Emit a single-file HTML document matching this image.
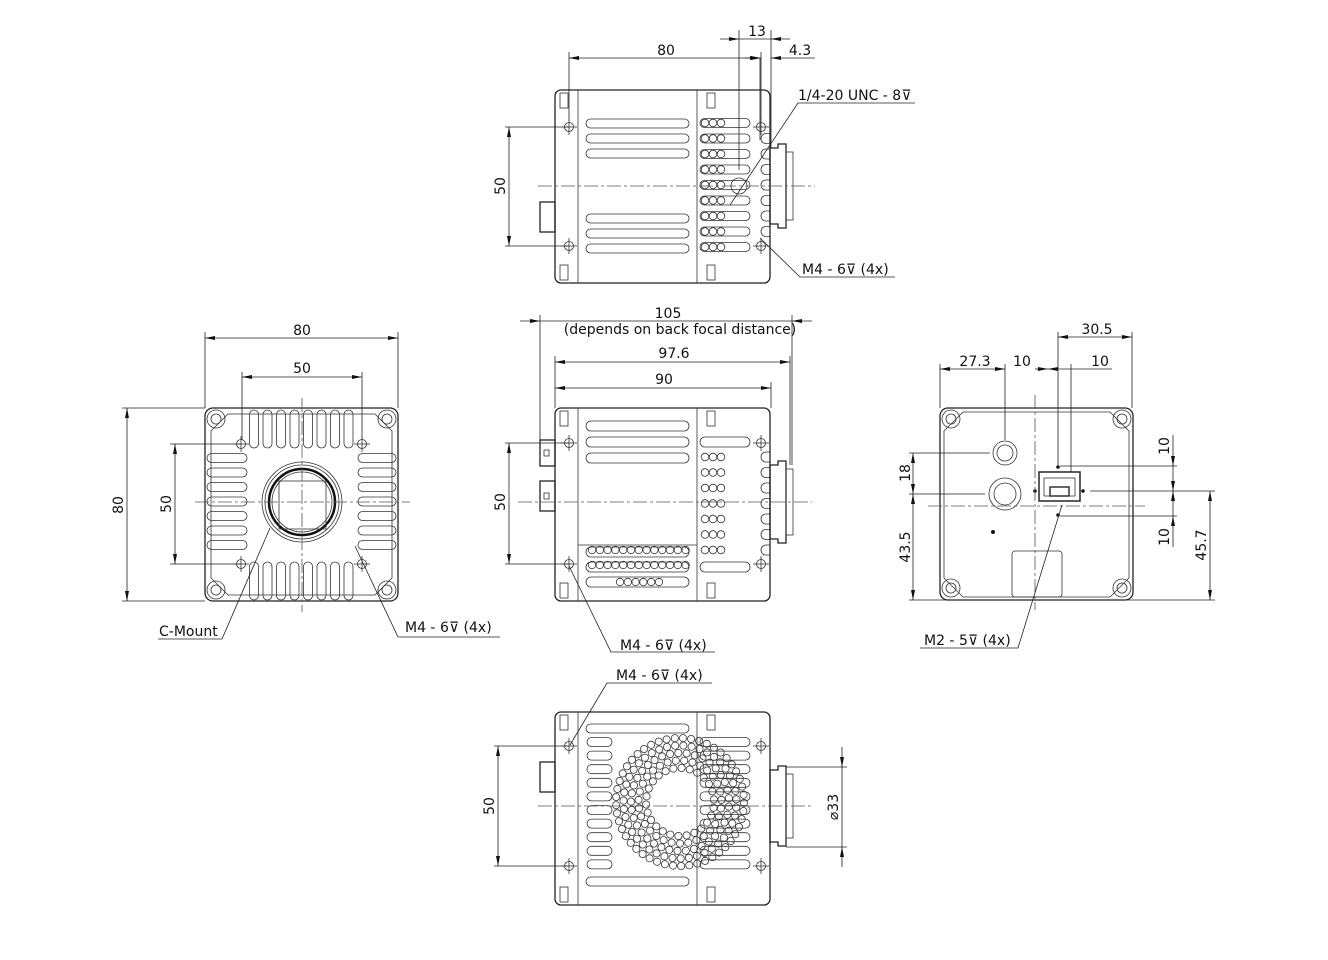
<!DOCTYPE html>
<html><head><meta charset="utf-8">
<style>
html,body{margin:0;padding:0;background:#fff;}
svg{display:block;}
text{font-family:"DejaVu Sans","Liberation Sans",sans-serif;font-size:14px;fill:#111;}
.t{stroke:#222;stroke-width:1.3;fill:none;}
.n{stroke:#333;stroke-width:0.8;fill:none;}
.d{stroke:#222;stroke-width:0.8;fill:none;}
.c{stroke:#555;stroke-width:0.8;fill:none;stroke-dasharray:14 3 3 3;}
</style></head>
<body>
<svg id="s" width="1328" height="960" viewBox="0 0 1328 960" xmlns="http://www.w3.org/2000/svg">
<defs>
<marker id="a" viewBox="0 0 10 4" refX="10" refY="2" markerWidth="12" markerHeight="4" markerUnits="userSpaceOnUse" orient="auto-start-reverse"><path d="M0,0 L10,2 L0,4z" fill="#111"/></marker>
</defs>

<!-- ================= TOP VIEW ================= -->
<g>
<rect class="t" x="555" y="90" width="215" height="193" rx="6"/>
<line class="n" x1="578" y1="90" x2="578" y2="283"/>
<line class="n" x1="697" y1="90" x2="697" y2="283"/>
<rect class="n" x="560" y="93" width="8" height="15"/><rect class="n" x="560" y="265" width="8" height="15"/>
<rect class="n" x="707" y="93" width="8" height="15"/><rect class="n" x="707" y="265" width="8" height="15"/>
<g class="n">
<rect x="586" y="119" width="103" height="9" rx="4.5"/><rect x="586" y="134" width="103" height="9" rx="4.5"/><rect x="586" y="149" width="103" height="9" rx="4.5"/>
<rect x="586" y="214" width="103" height="9" rx="4.5"/><rect x="586" y="229" width="103" height="9" rx="4.5"/><rect x="586" y="244" width="103" height="9" rx="4.5"/>
</g>
<g id="topRight"></g>
<path class="t" d="M770,148 h8 v-4 h8 v84 h-8 v-4 h-8z"/>
<rect class="n" x="786" y="152" width="7" height="68"/>
<rect class="t" x="540" y="202" width="15" height="30"/>
<line class="c" x1="538" y1="186" x2="815" y2="186"/>
<circle class="n" cx="739" cy="186" r="8"/>
</g>
<!-- top dims -->
<g class="d">
<line x1="569" y1="52" x2="569" y2="120"/><line x1="761" y1="52" x2="761" y2="120"/>
<line x1="569" y1="58" x2="761" y2="58" marker-start="url(#a)" marker-end="url(#a)"/>
<line x1="739" y1="30" x2="739" y2="170"/><line x1="771" y1="30" x2="771" y2="148"/>
<line x1="720" y1="39" x2="739" y2="39" marker-end="url(#a)"/><line x1="739" y1="39" x2="771" y2="39"/><line x1="771" y1="39" x2="790" y2="39" marker-start="url(#a)"/>
<line x1="745" y1="58" x2="760" y2="58" marker-end="url(#a)"/><line x1="760" y1="58" x2="760" y2="140"/><line x1="771" y1="58" x2="815" y2="58" marker-start="url(#a)"/>
<line x1="509" y1="127" x2="509" y2="246" marker-start="url(#a)" marker-end="url(#a)"/>
<line x1="505" y1="127" x2="569" y2="127"/><line x1="505" y1="246" x2="569" y2="246"/>
<polyline points="915,103 798,103 730,205"/>
<polyline points="760,238 800,277 895,277"/>
</g>
<text x="666" y="55" text-anchor="middle">80</text>
<text x="757" y="36" text-anchor="middle">13</text>
<text x="800" y="55" text-anchor="middle">4.3</text>
<text x="798" y="100">1/4-20 UNC - 8⊽</text>
<text x="802" y="274">M4 - 6⊽ (4x)</text>
<text transform="translate(505,186) rotate(-90)" text-anchor="middle">50</text>

<!-- ================= SIDE VIEW (middle) ================= -->
<g>
<rect class="t" x="555" y="408" width="215" height="193" rx="6"/>
<line class="n" x1="578" y1="408" x2="578" y2="601"/>
<line class="n" x1="697" y1="408" x2="697" y2="601"/>
<line class="n" x1="578" y1="545" x2="697" y2="545"/>
<rect class="n" x="560" y="411" width="8" height="15"/><rect class="n" x="560" y="583" width="8" height="15"/>
<rect class="n" x="707" y="411" width="8" height="15"/><rect class="n" x="707" y="583" width="8" height="15"/>
<g class="n">
<rect x="586" y="421" width="103" height="10" rx="5"/><rect x="586" y="437" width="103" height="10" rx="5"/><rect x="586" y="453" width="103" height="10" rx="5"/>
<rect x="586" y="547" width="103" height="10" rx="5"/><rect x="586" y="562" width="103" height="10" rx="5"/><rect x="586" y="577" width="103" height="10" rx="5"/>
<rect x="700" y="437" width="50" height="10" rx="5"/><rect x="700" y="562" width="50" height="10" rx="5"/>
</g>
<g id="sideRight"></g>
<path class="t" d="M770,465 h8 v-4 h8 v82 h-8 v-4 h-8z"/>
<rect class="n" x="786" y="469" width="7" height="66"/>
<rect class="t" x="540" y="440" width="15" height="26"/>
<rect class="t" x="540" y="481" width="15" height="30"/>
<rect class="n" x="544" y="450" width="5" height="6"/><rect class="n" x="544" y="493" width="5" height="6"/>
<line class="c" x1="518" y1="502" x2="812" y2="502"/>
</g>
<g class="d">
<line x1="540" y1="315" x2="540" y2="440"/><line x1="792" y1="315" x2="792" y2="465"/>
<line x1="520" y1="321" x2="540" y2="321" marker-end="url(#a)"/><line x1="540" y1="321" x2="792" y2="321"/><line x1="792" y1="321" x2="812" y2="321" marker-start="url(#a)"/>
<line x1="555" y1="356" x2="555" y2="408"/><line x1="790" y1="356" x2="790" y2="465"/>
<line x1="555" y1="362" x2="790" y2="362" marker-start="url(#a)" marker-end="url(#a)"/>
<line x1="771" y1="382" x2="771" y2="408"/>
<line x1="555" y1="388" x2="771" y2="388" marker-start="url(#a)" marker-end="url(#a)"/>
<line x1="509" y1="443" x2="509" y2="564" marker-start="url(#a)" marker-end="url(#a)"/>
<line x1="505" y1="443" x2="569" y2="443"/><line x1="505" y1="564" x2="569" y2="564"/>
<polyline points="569,566 611,652 715,652"/>
</g>
<text x="668" y="318" text-anchor="middle">105</text>
<text x="680" y="334" text-anchor="middle">(depends on back focal distance)</text>
<text x="674" y="358" text-anchor="middle">97.6</text>
<text x="664" y="384" text-anchor="middle">90</text>
<text x="620" y="650">M4 - 6⊽ (4x)</text>
<text transform="translate(505,502) rotate(-90)" text-anchor="middle">50</text>

<!-- ================= FRONT VIEW (left) ================= -->
<g>
<rect class="t" x="205" y="408" width="193" height="193" rx="8"/>
<path class="n" d="M228,414 H375 L392,431 V578 L375,595 H228 L211,578 V431z"/>
<g class="n">
<circle cx="216" cy="419" r="9"/><circle cx="387" cy="419" r="9"/><circle cx="216" cy="590" r="9"/><circle cx="387" cy="590" r="9"/>
<circle cx="216" cy="419" r="5"/><circle cx="387" cy="419" r="5"/><circle cx="216" cy="590" r="5"/><circle cx="387" cy="590" r="5"/>
</g>
<g id="frontFins"></g>
<circle class="n" cx="302" cy="502" r="40"/>
<circle class="n" cx="302" cy="502" r="37"/>
<circle cx="302" cy="502" r="33" fill="none" stroke="#111" stroke-width="2.5"/>
<circle class="n" cx="302" cy="502" r="30"/>
<rect class="n" x="279" y="481" width="47" height="48"/>
<line class="c" x1="195" y1="502" x2="410" y2="502"/>
<line class="c" x1="302" y1="398" x2="302" y2="612"/>
</g>
<g class="d">
<line x1="205" y1="332" x2="205" y2="408"/><line x1="398" y1="332" x2="398" y2="408"/>
<line x1="205" y1="338" x2="398" y2="338" marker-start="url(#a)" marker-end="url(#a)"/>
<line x1="242" y1="372" x2="242" y2="440"/><line x1="362" y1="372" x2="362" y2="440"/>
<line x1="242" y1="377" x2="362" y2="377" marker-start="url(#a)" marker-end="url(#a)"/>
<line x1="122" y1="408" x2="205" y2="408"/><line x1="122" y1="601" x2="205" y2="601"/>
<line x1="127" y1="408" x2="127" y2="601" marker-start="url(#a)" marker-end="url(#a)"/>
<line x1="170" y1="444" x2="241" y2="444"/><line x1="170" y1="564" x2="241" y2="564"/>
<line x1="175" y1="444" x2="175" y2="564" marker-start="url(#a)" marker-end="url(#a)"/>
<polyline points="158,639 222,639 270,528"/>
<polyline points="355,546 398,637 500,637"/>
</g>
<text x="302" y="335" text-anchor="middle">80</text>
<text x="302" y="373" text-anchor="middle">50</text>
<text x="159" y="636">C-Mount</text>
<text x="405" y="632">M4 - 6⊽ (4x)</text>
<text transform="translate(123,505) rotate(-90)" text-anchor="middle">80</text>
<text transform="translate(171,504) rotate(-90)" text-anchor="middle">50</text>

<!-- ================= BACK VIEW (right) ================= -->
<g>
<rect class="t" x="940" y="408" width="193" height="192" rx="8"/>
<path class="n" d="M963,412 H1110 L1129,431 V578 L1110,597 H963 L944,578 V431z"/>
<g class="n">
<circle cx="951" cy="419" r="9"/><circle cx="1122" cy="419" r="9"/><circle cx="951" cy="588" r="9"/><circle cx="1122" cy="588" r="9"/>
<circle cx="951" cy="419" r="5"/><circle cx="1122" cy="419" r="5"/><circle cx="951" cy="588" r="5"/><circle cx="1122" cy="588" r="5"/>
<circle cx="1005" cy="453" r="12"/><circle cx="1005" cy="453" r="8"/>
<circle cx="1005" cy="494" r="16"/><circle cx="1005" cy="494" r="11"/>
<rect x="1012" y="551" width="50" height="46" rx="3"/>
<rect x="1039" y="472" width="41" height="29" stroke-width="1.6"/>
<rect x="1044" y="478" width="31" height="18"/>
<rect x="1050" y="487" width="19" height="9" stroke-width="1.5"/>
</g>
<circle cx="993" cy="532" r="2" fill="#111"/>
<circle cx="1058" cy="467" r="1.8" fill="#111"/><circle cx="1058" cy="515" r="1.8" fill="#111"/>
<circle cx="1035" cy="491" r="1.8" fill="#111"/><circle cx="1083" cy="491" r="1.8" fill="#111"/>
<line class="c" x1="928" y1="506" x2="1145" y2="506"/>
<line class="c" x1="1035" y1="395" x2="1035" y2="610"/>
</g>
<g class="d">
<line x1="940" y1="364" x2="940" y2="408"/><line x1="1005" y1="364" x2="1005" y2="440"/>
<line x1="940" y1="369" x2="1005" y2="369" marker-start="url(#a)" marker-end="url(#a)"/>
<line x1="1035" y1="369" x2="1048" y2="369" marker-end="url(#a)"/><line x1="1048" y1="369" x2="1071" y2="369" marker-start="url(#a)"/><line x1="1071" y1="369" x2="1112" y2="369"/>
<line x1="1071" y1="364" x2="1071" y2="472"/>
<line x1="1058" y1="332" x2="1058" y2="465"/><line x1="1132" y1="332" x2="1132" y2="408"/>
<line x1="1058" y1="337" x2="1132" y2="337" marker-start="url(#a)" marker-end="url(#a)"/>
<line x1="909" y1="453" x2="990" y2="453"/><line x1="909" y1="494" x2="985" y2="494"/><line x1="909" y1="600" x2="1215" y2="600"/>
<line x1="913" y1="453" x2="913" y2="494" marker-start="url(#a)" marker-end="url(#a)"/>
<line x1="913" y1="494" x2="913" y2="600" marker-start="url(#a)" marker-end="url(#a)"/>
<line x1="1060" y1="466" x2="1177" y2="466"/><line x1="1090" y1="491" x2="1215" y2="491"/><line x1="1060" y1="516" x2="1177" y2="516"/>
<line x1="1173" y1="435" x2="1173" y2="466" marker-end="url(#a)"/><line x1="1173" y1="466" x2="1173" y2="491" marker-end="url(#a)"/>
<line x1="1173" y1="491" x2="1173" y2="516" marker-start="url(#a)"/><line x1="1173" y1="516" x2="1173" y2="547" marker-start="url(#a)"/>
<line x1="1210" y1="491" x2="1210" y2="600" marker-start="url(#a)" marker-end="url(#a)"/>
<polyline points="920,648 1018,648 1062,505"/>
</g>
<text x="975" y="366" text-anchor="middle">27.3</text>
<text x="1022" y="366" text-anchor="middle">10</text>
<text x="1100" y="366" text-anchor="middle">10</text>
<text x="1097" y="334" text-anchor="middle">30.5</text>
<text x="924" y="645">M2 - 5⊽ (4x)</text>
<text transform="translate(910,473) rotate(-90)" text-anchor="middle">18</text>
<text transform="translate(910,547) rotate(-90)" text-anchor="middle">43.5</text>
<text transform="translate(1169,446) rotate(-90)" text-anchor="middle">10</text>
<text transform="translate(1169,537) rotate(-90)" text-anchor="middle">10</text>
<text transform="translate(1206,545) rotate(-90)" text-anchor="middle">45.7</text>

<!-- ================= BOTTOM VIEW ================= -->
<g>
<rect class="t" x="555" y="712" width="215" height="193" rx="6"/>
<line class="n" x1="578" y1="712" x2="578" y2="905"/>
<line class="n" x1="697" y1="712" x2="697" y2="905"/>
<rect class="n" x="560" y="715" width="8" height="15"/><rect class="n" x="560" y="887" width="8" height="15"/>
<rect class="n" x="707" y="715" width="8" height="15"/><rect class="n" x="707" y="887" width="8" height="15"/>
<g class="n">
<rect x="586" y="724" width="103" height="9" rx="4.5"/><rect x="586" y="877" width="103" height="9" rx="4.5"/>
</g>
<g id="botSlots"></g>
<g id="botHoles"></g>
<path class="t" d="M770,770 h8 v-4 h8 v80 h-8 v-4 h-8z"/>
<rect class="n" x="786" y="774" width="7" height="64"/>
<rect class="t" x="540" y="762" width="15" height="30"/>
<line class="c" x1="538" y1="806" x2="812" y2="806"/>
</g>
<g class="d">
<line x1="494" y1="746" x2="569" y2="746"/><line x1="494" y1="866" x2="569" y2="866"/>
<line x1="498" y1="746" x2="498" y2="866" marker-start="url(#a)" marker-end="url(#a)"/>
<line x1="786" y1="767" x2="847" y2="767"/><line x1="786" y1="847" x2="847" y2="847"/>
<line x1="842" y1="747" x2="842" y2="767" marker-end="url(#a)"/><line x1="842" y1="767" x2="842" y2="847"/><line x1="842" y1="847" x2="842" y2="867" marker-start="url(#a)"/>
<polyline points="712,683 607,683 570,745"/>
</g>
<text x="616" y="680">M4 - 6⊽ (4x)</text>
<text transform="translate(494,806) rotate(-90)" text-anchor="middle">50</text>
<text transform="translate(838,807) rotate(-90)" text-anchor="middle">⌀33</text>

<!-- mount holes (static) -->
<g class="n" id="mh"></g>
</svg>
<script>
(function(){
var NS="http://www.w3.org/2000/svg";
function el(p,tag,attrs){var e=document.createElementNS(NS,tag);for(var k in attrs)e.setAttribute(k,attrs[k]);e.setAttribute("class",attrs["class"]||"n");p.appendChild(e);return e;}
// mount holes with crosshairs
var mh=document.getElementById("mh");
var holes=[[569,127],[569,246],[761,127],[761,246],[569,443],[569,564],[761,443],[761,564],[241,444],[362,444],[241,564],[362,564],[569,746],[569,866],[761,746],[761,866]];
holes.forEach(function(h){el(mh,"circle",{cx:h[0],cy:h[1],r:4.5});el(mh,"line",{x1:h[0]-8,y1:h[1],x2:h[0]+8,y2:h[1]});el(mh,"line",{x1:h[0],y1:h[1]-8,x2:h[0],y2:h[1]+8});});
// top right small circles + right fins
var tr=document.getElementById("topRight");
for(var i=0;i<9;i++){var y=123+i*15.5;el(tr,"rect",{x:700,y:y-4.5,width:50,height:9,rx:4.5});for(var j=0;j<3;j++)el(tr,"circle",{cx:705+j*8,cy:y,r:3.8});
 if(i>0&&i<8){el(tr,"path",{d:"M770,"+(y-5)+" h-4 a5,5 0 0 0 0,10 h4"});}}
// side right
var sr=document.getElementById("sideRight");
for(var i=0;i<7;i++){var y=457+i*15.5;for(var j=0;j<3;j++)el(sr,"circle",{cx:705+j*8,cy:y,r:3.8});el(sr,"path",{d:"M770,"+(y-5)+" h-4 a5,5 0 0 0 0,10 h4"});}
for(var i=0;i<2;i++){var y=550+i*15;for(var j=0;j<13;j++)el(sr,"circle",{cx:592+j*7.8,cy:y,r:3.7});}
for(var j=0;j<6;j++)el(sr,"circle",{cx:620+j*7.8,cy:582,r:3.7});
// front fins
var ff=document.getElementById("frontFins");
for(var i=0;i<8;i++){var x=254+i*13.5;el(ff,"rect",{x:x-4.5,y:410,width:9,height:38,rx:4.5});el(ff,"rect",{x:x-4.5,y:562,width:9,height:38,rx:4.5});}
for(var i=0;i<7;i++){var y=458+i*14.5;el(ff,"rect",{x:207,y:y-4.5,width:40,height:9,rx:4.5});el(ff,"rect",{x:358,y:y-4.5,width:38,height:9,rx:4.5});}
// bottom slots
var bs=document.getElementById("botSlots");
for(var i=0;i<10;i++){var y=742+i*13.6;el(bs,"rect",{x:587,y:y-4.5,width:25,height:9,rx:4.5});el(bs,"rect",{x:700,y:y-4.5,width:50,height:9,rx:4.5});}
// bottom hole pattern
var bh=document.getElementById("botHoles");
var cx=680,cy=802;
for(var r=34;r<=66;r+=7.5){var n=Math.floor(2*Math.PI*r/8.2);for(var k=0;k<n;k++){var a=k*2*Math.PI/n+r;el(bh,"circle",{cx:(cx+r*Math.cos(a)).toFixed(1),cy:(cy+r*Math.sin(a)).toFixed(1),r:3.6});}}
})();
</script>
</body></html>
